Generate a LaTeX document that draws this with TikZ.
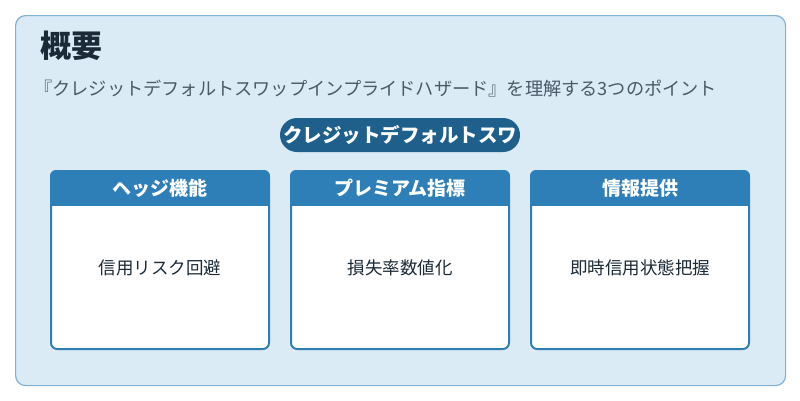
\documentclass[tikz,border=0pt]{standalone}
\usepackage{fontspec}
\setmainfont{Noto Sans CJK JP}
\definecolor{bgc}{HTML}{DAEBF6}
\definecolor{bdc}{HTML}{7FB2D6}
\definecolor{pill}{HTML}{1F5F8B}
\definecolor{hdr}{HTML}{2E7FB8}
\definecolor{txt}{HTML}{1B2A36}
\definecolor{sub}{HTML}{4A5A66}
\tikzset{
  hbar/.style={fill=hdr, minimum width=220pt, minimum height=36pt, anchor=north west, inner sep=0pt},
  htext/.style={text=white, font=\bfseries\fontsize{19}{22}\selectfont},
  btext/.style={text=txt, font=\fontsize{17.5}{20}\selectfont}
}
\begin{document}
\begin{tikzpicture}[x=1pt,y=-1pt]
\useasboundingbox (0,0) rectangle (800,400);
\fill[white] (0,0) rectangle (800,400);
\node[draw=bdc, line width=1.2pt, fill=bgc, rounded corners=10pt, minimum width=770pt, minimum height=370pt, anchor=north west, inner sep=0pt] (frame) at (15,15) {};
\node[anchor=west, text=txt, font=\bfseries\fontsize{31}{34}\selectfont, inner sep=0pt] (title) at (40,46) {概要};
\node[anchor=west, text=sub, font=\fontsize{18.2}{20}\selectfont, inner sep=0pt] (subt) at (34,89) {『クレジットデフォルトスワップインプライドハザード』を理解する3つのポイント};
\node[fill=pill, rounded corners=17pt, minimum width=240pt, minimum height=34pt, text=white, font=\bfseries\fontsize{19.5}{22}\selectfont, inner sep=0pt] (pillnode) at (400,135) {クレジットデフォルトスワ};
\foreach \x/\h/\b/\n in {50/ヘッジ機能/信用リスク回避/a, 290/プレミアム指標/損失率数値化/b, 530/情報提供/即時信用状態把握/c}{
  \begin{scope}
    \clip[rounded corners=6pt] (\x,170) rectangle ++(220,180);
    \fill[white] (\x,170) rectangle ++(220,180);
    \node[hbar] (h\n) at (\x,170) {};
  \end{scope}
  \draw[hdr, line width=2pt, rounded corners=6pt] (\x+1,171) rectangle ++(218,178);
  \node[htext] (ht\n) at (\x+110,188) {\h};
  \node[btext] (bt\n) at (\x+110,268) {\b};
}
\end{tikzpicture}
\end{document}
